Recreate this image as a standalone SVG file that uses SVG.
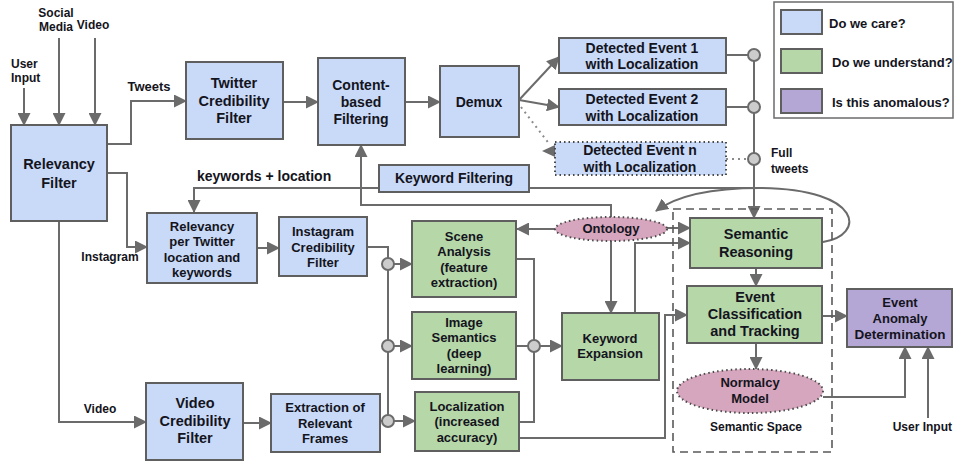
<svg xmlns="http://www.w3.org/2000/svg" width="954" height="462" viewBox="0 0 954 462">
<style>
text{font-family:"Liberation Sans",Arial,sans-serif;font-weight:bold;fill:#141420;text-anchor:middle}
.t13{font-size:13px}.t14{font-size:14px}.t145{font-size:14.5px}.t12{font-size:12px}
.l{text-anchor:start}
.e{text-anchor:end}
.blue{fill:#c9daf8;stroke:#5f5f5f;stroke-width:2}
.green{fill:#b6d7a8;stroke:#5f5f5f;stroke-width:2}
.purple{fill:#b4a7d6;stroke:#5f5f5f;stroke-width:2}
.pink{fill:#d5a6bd;stroke:#4a4a4a;stroke-width:2;stroke-dasharray:1.5,3}
.c{fill:none;stroke:#6b6b6b;stroke-width:2}
.dotc{fill:none;stroke:#8a8a8a;stroke-width:2;stroke-dasharray:2,4}
.j{fill:#cccccc;stroke:#6b6b6b;stroke-width:2}
</style>
<defs>
<marker id="a" markerUnits="userSpaceOnUse" markerWidth="13" markerHeight="13" refX="12" refY="6.5" orient="auto">
<path d="M0,0 L13,6.5 L0,13 z" fill="#6b6b6b"/>
</marker>
</defs>

<g id="connectors">
<path class="c" d="M24,88 V125" marker-end="url(#a)"/>
<path class="c" d="M59,38 V125" marker-end="url(#a)"/>
<path class="c" d="M95,38 V125" marker-end="url(#a)"/>
<path class="c" d="M107,144 H131 V101 H186" marker-end="url(#a)"/>
<path class="c" d="M283,102 H318" marker-end="url(#a)"/>
<path class="c" d="M405,102 H440" marker-end="url(#a)"/>
<path class="c" d="M519,100 L559,57" marker-end="url(#a)"/>
<path class="c" d="M519,100 L559,107" marker-end="url(#a)"/>
<path class="dotc" d="M521,107 L550,145"/>
<polygon points="542,151 555,145 555,157" fill="#6b6b6b"/>
<path class="c" d="M726,55 H754"/>
<path class="c" d="M726,107 H754"/>
<path class="dotc" d="M726,159 H748"/>
<path class="c" d="M754,55 V218" marker-end="url(#a)"/>
<path class="c" d="M823,242 C865,236 865,189 760,188 C712,188 676,196 656,211" marker-end="url(#a)"/>
<path class="c" d="M760,188 H194 V212" marker-end="url(#a)"/>
<path class="c" d="M611,217 V205 H361 V145" marker-end="url(#a)"/>
<path class="c" d="M556,229 H517" marker-end="url(#a)"/>
<path class="c" d="M666,228 H690" marker-end="url(#a)"/>
<path class="c" d="M611,241 V313" marker-end="url(#a)"/>
<path class="c" d="M635,313 V243 H690" marker-end="url(#a)"/>
<path class="c" d="M107,173 H127 V247 H147" marker-end="url(#a)"/>
<path class="c" d="M59,221 V422 H146" marker-end="url(#a)"/>
<path class="c" d="M257,248 H279" marker-end="url(#a)"/>
<path class="c" d="M243,423 H271" marker-end="url(#a)"/>
<path class="c" d="M367,247 H388 V421 H380"/>
<path class="c" d="M394,264 H412" marker-end="url(#a)"/>
<path class="c" d="M394,346 H412" marker-end="url(#a)"/>
<path class="c" d="M394,421 H415" marker-end="url(#a)"/>
<path class="c" d="M516,259 H534 V422 H519"/>
<path class="c" d="M516,346 H528"/>
<path class="c" d="M540,346 H562" marker-end="url(#a)"/>
<path class="c" d="M517,438 H665 V315 H687" marker-end="url(#a)"/>
<path class="c" d="M756,268 V286" marker-end="url(#a)"/>
<path class="c" d="M756,343 V369" marker-end="url(#a)"/>
<path class="c" d="M822,316 H847" marker-end="url(#a)"/>
<path class="c" d="M823,397 H905 V347" marker-end="url(#a)"/>
<path class="c" d="M928,418 V347" marker-end="url(#a)"/>
<circle class="j" cx="754" cy="55" r="6"/>
<circle class="j" cx="754" cy="107" r="6"/>
<circle class="j" cx="754" cy="159" r="6"/>
<circle class="j" cx="388" cy="264" r="6"/>
<circle class="j" cx="388" cy="346" r="6"/>
<circle class="j" cx="388" cy="421" r="6"/>
<circle class="j" cx="534" cy="346" r="6"/>
</g>

<g id="labels">
<text class="t12 l" x="11" y="68">User</text>
<text class="t12 l" x="11" y="82">Input</text>
<text class="t12" x="56" y="17">Social</text>
<text class="t12" x="56" y="31">Media</text>
<text class="t12" x="93" y="29">Video</text>
<text class="t13" x="149" y="91">Tweets</text>
<text class="t14 l" x="197" y="181">keywords + location</text>
<text class="t12" x="110" y="261">Instagram</text>
<text class="t12" x="100" y="413">Video</text>
<text class="t12 l" x="771" y="157">Full</text>
<text class="t12 l" x="771" y="173">tweets</text>
<text class="t12 e" x="952" y="431">User Input</text>
</g>

<g id="semantic-space">
<rect x="673" y="209" width="159" height="243" fill="none" stroke="#5a5a5a" stroke-width="1.6" stroke-dasharray="8,5"/>
<text class="t12" x="756" y="431">Semantic Space</text>
</g>

<g id="relevancy-filter">
<rect class="blue" x="11" y="125" width="96" height="96"/>
<text class="t145" x="59" y="169">Relevancy</text>
<text class="t145" x="59" y="188">Filter</text>
</g>
<g id="twitter-credibility">
<rect class="blue" x="186" y="62" width="97" height="77"/>
<text class="t145" x="234" y="88">Twitter</text>
<text class="t145" x="234" y="106">Credibility</text>
<text class="t145" x="234" y="123">Filter</text>
</g>
<g id="content-based">
<rect class="blue" x="318" y="58" width="87" height="87"/>
<text class="t14" x="361" y="90">Content-</text>
<text class="t14" x="361" y="107">based</text>
<text class="t14" x="361" y="124">Filtering</text>
</g>
<g id="demux">
<rect class="blue" x="440" y="66" width="79" height="71"/>
<text class="t14" x="479" y="107">Demux</text>
</g>
<g id="event1">
<rect class="blue" x="559" y="38" width="167" height="35"/>
<text class="t14" x="642" y="53">Detected Event 1</text>
<text class="t14" x="642" y="69">with Localization</text>
</g>
<g id="event2">
<rect class="blue" x="559" y="89" width="167" height="36"/>
<text class="t14" x="642" y="104">Detected Event 2</text>
<text class="t14" x="642" y="121">with Localization</text>
</g>
<g id="eventn">
<rect x="555" y="142" width="171" height="33" fill="#c9daf8" stroke="#4a4a4a" stroke-width="2" stroke-dasharray="1.5,3"/>
<text class="t14" x="640" y="155">Detected Event n</text>
<text class="t14" x="640" y="172">with Localization</text>
</g>
<g id="keyword-filtering">
<rect class="blue" x="379" y="165" width="150" height="27"/>
<text class="t14" x="454" y="183">Keyword Filtering</text>
</g>
<g id="relevancy-twitter">
<rect class="blue" x="147" y="213" width="110" height="70"/>
<text class="t13" x="202" y="231">Relevancy</text>
<text class="t13" x="202" y="246">per Twitter</text>
<text class="t13" x="202" y="262">location and</text>
<text class="t13" x="202" y="277">keywords</text>
</g>
<g id="instagram-credibility">
<rect class="blue" x="279" y="217" width="88" height="59"/>
<text class="t13" x="323" y="236">Instagram</text>
<text class="t13" x="323" y="252">Credibility</text>
<text class="t13" x="323" y="267">Filter</text>
</g>
<g id="video-credibility">
<rect class="blue" x="146" y="383" width="97" height="77"/>
<text class="t145" x="195" y="408">Video</text>
<text class="t145" x="195" y="426">Credibility</text>
<text class="t145" x="195" y="443">Filter</text>
</g>
<g id="extraction">
<rect class="blue" x="271" y="394" width="109" height="58"/>
<text class="t13" x="325" y="412">Extraction of</text>
<text class="t13" x="325" y="428">Relevant</text>
<text class="t13" x="325" y="443">Frames</text>
</g>
<g id="scene-analysis">
<rect class="green" x="412" y="221" width="104" height="76"/>
<text class="t13" x="464" y="241">Scene</text>
<text class="t13" x="464" y="256">Analysis</text>
<text class="t13" x="464" y="272">(feature</text>
<text class="t13" x="464" y="287">extraction)</text>
</g>
<g id="image-semantics">
<rect class="green" x="412" y="312" width="104" height="67"/>
<text class="t13" x="464" y="327">Image</text>
<text class="t13" x="464" y="342">Semantics</text>
<text class="t13" x="464" y="358">(deep</text>
<text class="t13" x="464" y="373">learning)</text>
</g>
<g id="localization">
<rect class="green" x="415" y="392" width="104" height="59"/>
<text class="t13" x="467" y="411">Localization</text>
<text class="t13" x="467" y="426">(increased</text>
<text class="t13" x="467" y="442">accuracy)</text>
</g>
<g id="keyword-expansion">
<rect class="green" x="562" y="313" width="97" height="67"/>
<text class="t13" x="610" y="343">Keyword</text>
<text class="t13" x="610" y="358">Expansion</text>
</g>
<g id="ontology">
<ellipse class="pink" cx="611" cy="229" rx="56" ry="12"/>
<text class="t13" x="611" y="233">Ontology</text>
</g>
<g id="semantic-reasoning">
<rect class="green" x="690" y="218" width="132" height="50"/>
<text class="t145" x="756" y="239">Semantic</text>
<text class="t145" x="756" y="257">Reasoning</text>
</g>
<g id="event-classification">
<rect class="green" x="687" y="286" width="135" height="57"/>
<text class="t145" x="755" y="302">Event</text>
<text class="t145" x="755" y="319">Classification</text>
<text class="t145" x="755" y="336">and Tracking</text>
</g>
<g id="normalcy-model">
<ellipse class="pink" cx="750" cy="391" rx="73" ry="22"/>
<text class="t13" x="750" y="387">Normalcy</text>
<text class="t13" x="750" y="403">Model</text>
</g>
<g id="event-anomaly">
<rect class="purple" x="847" y="289" width="105" height="58"/>
<text class="t13" x="900" y="307">Event</text>
<text class="t13" x="900" y="323">Anomaly</text>
<text x="900" y="339" style="font-size:13.5px">Determination</text>
</g>

<g id="legend">
<rect x="774" y="2" width="179" height="116" fill="#fff" stroke="#6b6b6b" stroke-width="1.5"/>
<rect class="blue" x="781" y="10" width="41" height="24"/>
<rect class="green" x="781" y="49" width="41" height="24"/>
<rect class="purple" x="781" y="89" width="41" height="24"/>
<text class="t13 l" x="829" y="28">Do we care?</text>
<text class="t13 l" x="832" y="67">Do we understand?</text>
<text class="t13 l" x="832" y="107">Is this anomalous?</text>
</g>
</svg>
